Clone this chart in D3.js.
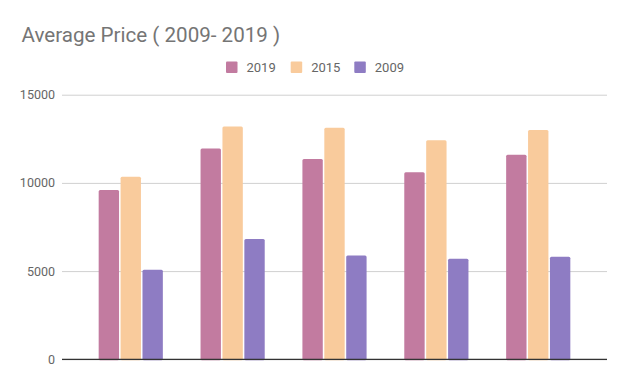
<!DOCTYPE html>
<html>
<head>
<meta charset="utf-8">
<script src="https://cdn.jsdelivr.net/npm/d3@7"></script>
<style>
  body { margin: 0; background: #fff; }
  svg { font-family: Roboto, "Noto Sans", sans-serif; }
</style>
</head>
<body>
<svg id="chart" width="628" height="389"></svg>
<script>
// data
var groups = ["A", "B", "C", "D", "E"];
var seriesNames = ["2019", "2015", "2009"];
var values2019 = [9600, 11950, 11350, 10600, 11600];
var values2015 = [10350, 13200, 13120, 12420, 13000];
var values2009 = [5070, 6820, 5880, 5700, 5820];
var yTicks = [0, 5000, 10000, 15000];
var colors = ["#c27ba0", "#f9cb9c", "#8e7cc3"];

var series = [values2019, values2015, values2009];

var svg = d3.select("#chart");
var plotLeft = 62, plotRight = 607, plotTop = 94.7, plotBottom = 359.3;

var y = d3.scaleLinear().domain([0, 15000]).range([plotBottom, plotTop]);
var x = d3.scaleBand().domain(groups).range([plotLeft, plotRight])
  .paddingInner(0.37).paddingOuter(0.36);
var xs = d3.scaleBand().domain(seriesNames).range([0, x.bandwidth()]).paddingInner(0.07);

// title
svg.append("text")
  .attr("x", 21.5).attr("y", 42)
  .attr("font-size", 20.6).attr("fill", "#757575")
  .text("Average Price ( 2009- 2019 )");

// gridlines + y labels
var yAxis = d3.axisLeft(y).tickValues(yTicks).tickFormat(d3.format("d"))
  .tickSize(-(plotRight - plotLeft)).tickPadding(7);
var gy = svg.append("g").attr("transform", "translate(" + plotLeft + ",0)").call(yAxis);
gy.select(".domain").remove();
gy.selectAll(".tick line").attr("stroke", "#d0d0d0").attr("stroke-width", 1);
gy.selectAll(".tick text").attr("font-size", 12.5).attr("fill", "#666")
  .attr("font-family", "Roboto, sans-serif");

// bars
series.forEach(function(vals, si) {
  svg.append("g").selectAll("rect")
    .data(vals)
    .enter().append("rect")
    .attr("x", function(d, i) { return x(groups[i]) + xs(seriesNames[si]); })
    .attr("y", function(d) { return y(d); })
    .attr("width", xs.bandwidth())
    .attr("height", function(d) { return plotBottom - y(d) + 1; })
    .attr("rx", 1.5)
    .attr("fill", colors[si]);
});

// baseline
svg.append("line")
  .attr("x1", plotLeft).attr("x2", plotRight)
  .attr("y1", y(0)).attr("y2", y(0))
  .attr("stroke", "#333").attr("stroke-width", 1.2);

// legend
var legendX = [226, 290.7, 354.3];
var lg = svg.append("g").selectAll("g")
  .data(seriesNames)
  .enter().append("g")
  .attr("transform", function(d, i) { return "translate(" + legendX[i] + ",61.5)"; });
lg.append("rect").attr("width", 11.5).attr("height", 11.5).attr("rx", 1)
  .attr("fill", function(d, i) { return colors[i]; });
lg.append("text").attr("x", 20.5).attr("y", 10.5)
  .attr("font-size", 13).attr("fill", "#666")
  .text(function(d) { return d; });
</script>
</body>
</html>
